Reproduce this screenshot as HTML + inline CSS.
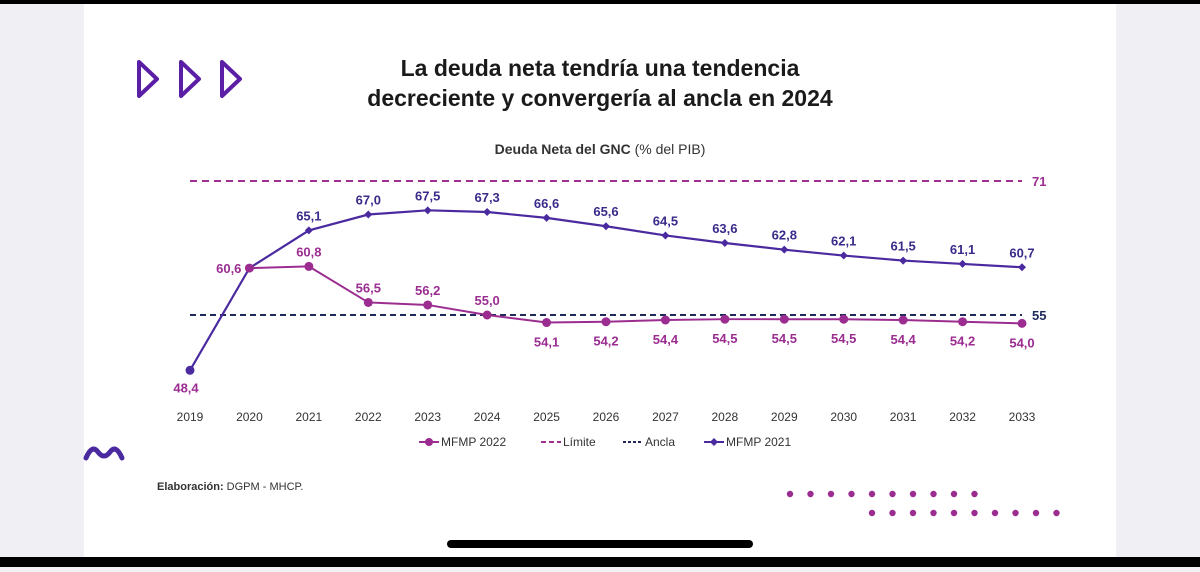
<!DOCTYPE html>
<html><head><meta charset="utf-8"><style>
body{margin:0;width:1200px;height:567px;overflow:hidden;background:#f0f0f5;font-family:"Liberation Sans",sans-serif}
</style></head><body>
<svg width="1200" height="567" xmlns="http://www.w3.org/2000/svg">
<rect x="0" y="0" width="1200" height="567" fill="#efeff4"/>
<rect x="84" y="4" width="1032" height="553" fill="#ffffff"/>
<rect x="0" y="0" width="1200" height="4" fill="#000"/>
<rect x="0" y="557" width="1200" height="10" fill="#000"/>
<rect x="447" y="540" width="306" height="8" rx="4" fill="#000"/>
<g fill="none" stroke="#5b1fa6" stroke-width="4" stroke-linejoin="round">
<path d="M139 62 L157 79 L139 96 Z"/><path d="M181 62 L199 79 L181 96 Z"/><path d="M222 62 L240 79 L222 96 Z"/></g>
<path d="M86 458 Q92 444 98 452 Q104 460 110 452 Q116 444 122 458" fill="none" stroke="#4b2aa0" stroke-width="5" stroke-linecap="round"/>
<text x="600" y="76" text-anchor="middle" font-size="23" font-weight="bold" fill="#1a1a1a">La deuda neta tendría una tendencia</text>
<text x="600" y="106" text-anchor="middle" font-size="23" font-weight="bold" fill="#1a1a1a">decreciente y convergería al ancla en 2024</text>
<text x="600" y="154" text-anchor="middle" font-size="14" fill="#333"><tspan font-weight="bold">Deuda Neta del GNC</tspan> (% del PIB)</text>
<text x="157" y="490" font-size="11" fill="#333"><tspan font-weight="bold">Elaboración:</tspan> DGPM - MHCP.</text>
<g id="dots" fill="#9b2d91"></g>
<g id="chart"></g>
</svg>
<script>
const years=[2019,2020,2021,2022,2023,2024,2025,2026,2027,2028,2029,2030,2031,2032,2033];
const mfmp2021=[48.4,60.6,65.1,67.0,67.5,67.3,66.6,65.6,64.5,63.6,62.8,62.1,61.5,61.1,60.7];
const mfmp2022=[null,60.6,60.8,56.5,56.2,55.0,54.1,54.2,54.4,54.5,54.5,54.5,54.4,54.2,54.0];
const limite=71, ancla=55;
const NS="http://www.w3.org/2000/svg";
const g=document.getElementById('chart');
const X=i=>190+i*(1022-190)/(years.length-1);
const Y=v=>315-(v-55)*8.375;
function mk(t,a,p){const e=document.createElementNS(NS,t);for(const k in a)e.setAttribute(k,a[k]);(p||g).appendChild(e);return e;}
function fmt(v){return v.toFixed(1).replace('.',',');}
const dg=document.getElementById('dots');
for(let i=0;i<10;i++){const c=mk('circle',{cx:790+i*20.5,cy:494,r:3.2},dg);}
for(let i=0;i<10;i++){const c=mk('circle',{cx:872+i*20.5,cy:513,r:3.2},dg);}
let l=mk('line',{x1:190,x2:1022,y1:Y(limite),y2:Y(limite),stroke:'#a0308f','stroke-width':2,'stroke-dasharray':'7 5'});

let t=mk('text',{x:1032,y:Y(limite)+5,'font-size':13,'font-weight':'bold',fill:'#9b2d91'});t.textContent=limite;

l=mk('line',{x1:190,x2:1022,y1:Y(ancla),y2:Y(ancla),stroke:'#1f2a5a','stroke-width':2,'stroke-dasharray':'6 4'});

t=mk('text',{x:1032,y:Y(ancla)+5,'font-size':13,'font-weight':'bold',fill:'#1f2a5a'});t.textContent=ancla;

let pts=mfmp2021.map((v,i)=>X(i)+','+Y(v)).join(' ');
l=mk('polyline',{points:pts,fill:'none',stroke:'#4b2aa0','stroke-width':2.2});

mfmp2021.forEach((v,i)=>{
 if(i===0){const c=mk('circle',{cx:X(i),cy:Y(v),r:4.5,fill:'#4b2aa0'});return;}
 const x=X(i),y=Y(v);
 const d=mk('path',{d:`M${x} ${y-4}L${x+4} ${y}L${x} ${y+4}L${x-4} ${y}Z`,fill:'#4b2aa0'});
 
 if(i>1){const tt=mk('text',{x:x,y:y-10,'text-anchor':'middle','font-size':13,'font-weight':'bold',fill:'#3b2a8a'});tt.textContent=fmt(v);
 }
});
pts=mfmp2022.map((v,i)=>v==null?null:X(i)+','+Y(v)).filter(p=>p).join(' ');
l=mk('polyline',{points:pts,fill:'none',stroke:'#9b2d91','stroke-width':2});

mfmp2022.forEach((v,i)=>{
 if(v==null)return;
 const x=X(i),y=Y(v);
 const c=mk('circle',{cx:x,cy:y,r:4.5,fill:'#9b2d91'});
 let a={x:x,y:y-10,'text-anchor':'middle','font-size':13,'font-weight':'bold',fill:'#9b2d91'};
 if(i===1){a.x=x-8;a.y=y+5;a['text-anchor']='end';}
 else if(v<55){a.y=y+24;}
 const tt=mk('text',a);tt.textContent=fmt(v);
 
});
t=mk('text',{x:X(0)-4,y:Y(mfmp2021[0])+22,'text-anchor':'middle','font-size':13,'font-weight':'bold',fill:'#9b2d91'});t.textContent=fmt(mfmp2021[0]);

years.forEach((yr,i)=>{const tt=mk('text',{x:X(i),y:421,'text-anchor':'middle','font-size':12,fill:'#333'});tt.textContent=yr;
 });
const lg=mk('g',{});
function entry(x,label,color,kind){
 const e=mk('g',{},lg);
 mk('line',{x1:x,x2:x+20,y1:442,y2:442,stroke:color,'stroke-width':2,'stroke-dasharray':kind==='dash'?'5 3':(kind==='dot'?'3 2':'none')},e);
 if(kind==='circle')mk('circle',{cx:x+10,cy:442,r:4,fill:color},e);
 if(kind==='diamond')mk('path',{d:`M${x+10} 438L${x+14} 442L${x+10} 446L${x+6} 442Z`,fill:color},e);
 const tt=mk('text',{x:x+22,y:446,'font-size':12,fill:'#333'},e);tt.textContent=label;}
entry(419,'MFMP 2022','#9b2d91','circle');
entry(541,'Límite','#a0308f','dash');
entry(623,'Ancla','#1f2a5a','dot');
entry(704,'MFMP 2021','#4b2aa0','diamond');
</script>
</body></html>
